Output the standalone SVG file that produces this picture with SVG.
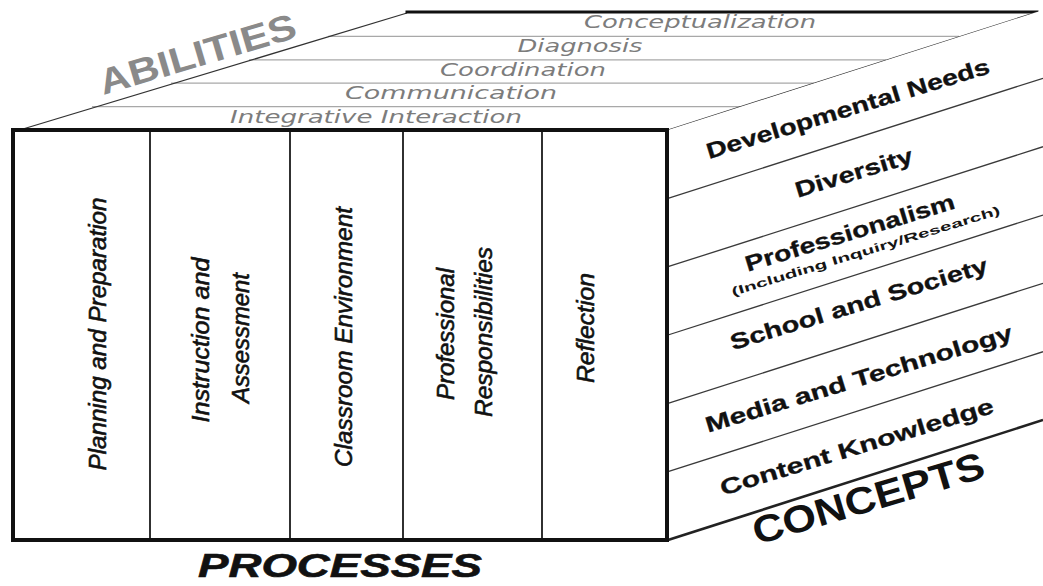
<svg xmlns="http://www.w3.org/2000/svg" width="1043" height="586" viewBox="0 0 1043 586">
  <style>
    .bg { fill: #ffffff; }
    .edge-thick { stroke: #111; stroke-width: 4; fill: none; stroke-linecap: square; }
    .edge-med { stroke: #222; stroke-width: 2.6; fill: none; }
    .edge-thin { stroke: #333; stroke-width: 1.3; fill: none; }
    .divider { stroke: #1a1a1a; stroke-width: 1.8; fill: none; }
    .band-top { stroke: #a8a8a8; stroke-width: 1.2; fill: none; }
    .band-side { stroke: #3a3a3a; stroke-width: 1.3; fill: none; }
    .ability { font-family: "DejaVu Sans", Verdana, sans-serif; font-style: oblique; font-size: 17px; fill: #7c7c7c; text-anchor: middle; }
    .process { font-family: "Liberation Sans Narrow", "Liberation Sans", Arial, sans-serif; font-style: italic; font-size: 24px; fill: #111; stroke: #111; stroke-width: 0.6; text-anchor: middle; }
    .concept { font-family: "Liberation Sans", Arial, sans-serif; font-weight: bold; font-size: 22px; fill: #111; stroke: #111; stroke-width: 0.3; text-anchor: middle; }
    .concept-sub { font-family: "Liberation Sans", Arial, sans-serif; font-weight: bold; font-size: 12px; fill: #151515; text-anchor: middle; }
    .axis { font-family: "Liberation Sans", Arial, sans-serif; font-weight: bold; text-anchor: middle; }
  </style>

  <rect class="bg" x="0" y="0" width="1043" height="586"/>

  <!-- Top face: abilities -->
  <g id="top-face">
    <polygon points="13,130 407,13 1037,12 668,130" fill="#fff"/>
    <line class="band-top" x1="328" y1="36.4" x2="959" y2="36.4"/>
    <line class="band-top" x1="249" y1="59.8" x2="886" y2="59.8"/>
    <line class="band-top" x1="171" y1="83.2" x2="814" y2="83.2"/>
    <line class="band-top" x1="92" y1="106.6" x2="741" y2="106.6"/>
    <line class="edge-thin" x1="13" y1="132" x2="407" y2="13"/>
    <line class="edge-thick" x1="407" y1="12" x2="1037" y2="12" style="stroke-width:3"/>
    <line class="edge-thin" x1="668" y1="130" x2="1037" y2="12"/>
  </g>

  <g id="ability-conceptualization"><text class="ability" x="700" y="28" textLength="232" lengthAdjust="spacingAndGlyphs">Conceptualization</text></g>
  <g id="ability-diagnosis"><text class="ability" x="580" y="52" textLength="125" lengthAdjust="spacingAndGlyphs">Diagnosis</text></g>
  <g id="ability-coordination"><text class="ability" x="523" y="76" textLength="166" lengthAdjust="spacingAndGlyphs">Coordination</text></g>
  <g id="ability-communication"><text class="ability" x="451" y="99" textLength="212" lengthAdjust="spacingAndGlyphs">Communication</text></g>
  <g id="ability-integrative"><text class="ability" x="376" y="123" textLength="292" lengthAdjust="spacingAndGlyphs">Integrative Interaction</text></g>

  <g id="label-abilities">
    <text class="axis" x="201" y="66" font-size="36" fill="#8a8a8a" textLength="204" lengthAdjust="spacingAndGlyphs" transform="rotate(-16.5 201 66)">ABILITIES</text>
  </g>

  <!-- Right face: concepts -->
  <g id="right-face">
    <polygon points="668,130 1037,12 1043,10 1043,420 668,540" fill="#fff"/>
    <line class="band-side" x1="668" y1="198.3" x2="1043" y2="78.3"/>
    <line class="band-side" x1="668" y1="266.7" x2="1043" y2="146.7"/>
    <line class="band-side" x1="668" y1="335" x2="1043" y2="215"/>
    <line class="band-side" x1="668" y1="403.3" x2="1043" y2="283.3"/>
    <line class="band-side" x1="668" y1="471.7" x2="1043" y2="351.7"/>
    <line class="edge-med" x1="668" y1="540" x2="1043" y2="420"/>
  </g>

  <g id="concept-developmental"><text class="concept" x="850" y="116" textLength="295" lengthAdjust="spacingAndGlyphs" transform="rotate(-17 850 116)">Developmental Needs</text></g>
  <g id="concept-diversity"><text class="concept" x="856" y="180" textLength="122" lengthAdjust="spacingAndGlyphs" transform="rotate(-17 856 180)">Diversity</text></g>
  <g id="concept-professionalism">
    <text class="concept" x="852" y="240" textLength="218" lengthAdjust="spacingAndGlyphs" transform="rotate(-17 852 240)">Professionalism</text>
    <text class="concept-sub" x="867" y="255" textLength="280" lengthAdjust="spacingAndGlyphs" transform="rotate(-17 867 255)">(Including Inquiry/Research)</text>
  </g>
  <g id="concept-school"><text class="concept" x="861" y="311" textLength="268" lengthAdjust="spacingAndGlyphs" transform="rotate(-17 861 311)">School and Society</text></g>
  <g id="concept-media"><text class="concept" x="861" y="386" textLength="320" lengthAdjust="spacingAndGlyphs" transform="rotate(-17 861 386)">Media and Technology</text></g>
  <g id="concept-content"><text class="concept" x="859" y="454" textLength="285" lengthAdjust="spacingAndGlyphs" transform="rotate(-17 859 454)">Content Knowledge</text></g>

  <g id="label-concepts">
    <text class="axis" x="872" y="511" font-size="38" fill="#111" textLength="240" lengthAdjust="spacingAndGlyphs" transform="rotate(-16.5 872 511)">CONCEPTS</text>
  </g>

  <!-- Front face: processes -->
  <g id="front-face">
    <rect x="13" y="130" width="655" height="410" fill="#fff"/>
    <line class="divider" x1="150" y1="130" x2="150" y2="540"/>
    <line class="divider" x1="290" y1="130" x2="290" y2="540"/>
    <line class="divider" x1="403" y1="130" x2="403" y2="540"/>
    <line class="divider" x1="542" y1="130" x2="542" y2="540"/>
    <rect class="edge-thick" x="13" y="130" width="654" height="410"/>
  </g>

  <g id="process-planning"><text class="process" x="106" y="334" textLength="273" lengthAdjust="spacingAndGlyphs" transform="rotate(-90 106 334)">Planning and Preparation</text></g>
  <g id="process-instruction">
    <text class="process" x="209" y="340" textLength="165" lengthAdjust="spacingAndGlyphs" transform="rotate(-90 209 340)">Instruction and</text>
    <text class="process" x="249" y="338" textLength="130" lengthAdjust="spacingAndGlyphs" transform="rotate(-90 249 338)">Assessment</text>
  </g>
  <g id="process-classroom"><text class="process" x="352" y="337" textLength="260" lengthAdjust="spacingAndGlyphs" transform="rotate(-90 352 337)">Classroom Environment</text></g>
  <g id="process-professional">
    <text class="process" x="454" y="334" textLength="132" lengthAdjust="spacingAndGlyphs" transform="rotate(-90 454 334)">Professional</text>
    <text class="process" x="492" y="332" textLength="170" lengthAdjust="spacingAndGlyphs" transform="rotate(-90 492 332)">Responsibilities</text>
  </g>
  <g id="process-reflection"><text class="process" x="594" y="328" textLength="110" lengthAdjust="spacingAndGlyphs" transform="rotate(-90 594 328)">Reflection</text></g>

  <g id="label-processes">
    <text class="axis" x="340" y="577" font-size="33" font-style="italic" fill="#111" stroke="#111" stroke-width="0.6" textLength="284" lengthAdjust="spacingAndGlyphs">PROCESSES</text>
  </g>
</svg>
